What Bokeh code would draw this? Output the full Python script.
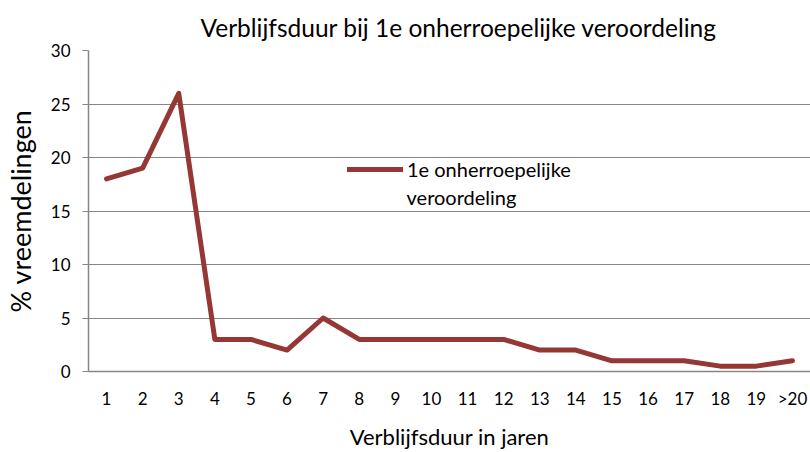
from bokeh.plotting import figure
from bokeh.models import Legend, LegendItem, FixedTicker, Range1d, Label
from bokeh.embed import file_html
from bokeh.resources import INLINE

categories = ["1", "2", "3", "4", "5", "6", "7", "8", "9", "10",
              "11", "12", "13", "14", "15", "16", "17", "18", "19", ">20"]
values = [18, 19, 26, 3, 3, 2, 5, 3, 3, 3, 3, 3, 2, 2, 1, 1, 1, 0.5, 0.5, 1]
series_line1 = "1e onherroepelijke"
series_line2 = "veroordeling"
title_text = "Verblijfsduur bij 1e onherroepelijke veroordeling"
y_ticks = [0, 5, 10, 15, 20, 25, 30]

FONT = "Lato"
RED = "#953735"
GRID = "#868686"

p = figure(width=810, height=452, x_range=categories, y_range=Range1d(0, 30),
           output_backend="svg", toolbar_location=None,
           min_border_left=86, min_border_right=0, min_border_top=50, min_border_bottom=80)
p.x_range.range_padding = 0

p.title.text = title_text
p.title.align = "left"
p.title.offset = 112
p.title.standoff = 18
p.title.text_font = FONT
p.title.text_font_size = "24.5px"
p.title.text_font_style = "normal"
p.title.text_color = "#000000"
p.title.text_line_height = 1.0

r = p.line(categories, values, line_color=RED, line_width=5, line_join="round", line_cap="round")

p.outline_line_color = None
p.background_fill_color = "white"
p.border_fill_color = "white"

p.xgrid.grid_line_color = None
p.ygrid.grid_line_color = GRID
p.ygrid.grid_line_width = 1.2
p.yaxis.ticker = FixedTicker(ticks=y_ticks)

for ax in (p.xaxis, p.yaxis):
    ax.axis_line_color = GRID
    ax.axis_line_width = 1.5
    ax.major_label_text_font = FONT
    ax.major_label_text_font_size = "17px"
    ax.major_label_text_color = "#000000"
    ax.axis_label_text_font = FONT
    ax.axis_label_text_font_style = "normal"
    ax.axis_label_text_color = "#000000"
    ax.minor_tick_line_color = None

p.yaxis.major_tick_line_color = GRID
p.yaxis.major_tick_out = 6
p.yaxis.major_tick_in = 0
p.yaxis.major_label_standoff = 12
p.yaxis.axis_label = "% vreemdelingen"
p.yaxis.axis_label_text_font_size = "27px"
p.yaxis.axis_label_standoff = 11

p.xaxis.major_tick_line_color = None
p.xaxis.major_tick_out = 0
p.xaxis.major_tick_in = 0
p.xaxis.major_label_standoff = 16
p.xaxis.major_label_text_line_height = 0.9
p.xaxis.axis_label = "Verblijfsduur in jaren"
p.xaxis.axis_label_text_font_size = "22px"
p.xaxis.axis_label_text_line_height = 0.85
p.xaxis.axis_label_standoff = 11

legend = Legend(items=[LegendItem(label=series_line1, renderers=[r])],
                location=(259, 190), orientation="vertical")
legend.label_text_font = FONT
legend.label_text_font_size = "20px"
legend.label_text_color = "#000000"
legend.glyph_width = 56
legend.glyph_height = 24
legend.label_height = 24
legend.label_standoff = 4
legend.background_fill_alpha = 0
legend.border_line_color = None
legend.padding = 0
legend.margin = 0
p.add_layout(legend, "center")

second = Label(x=8.81, y=16.3, text=series_line2, text_font=FONT, text_font_size="20px",
               text_color="#000000", text_baseline="middle", text_align="left")
p.add_layout(second)

open("out.html", "w").write(file_html(p, INLINE))
